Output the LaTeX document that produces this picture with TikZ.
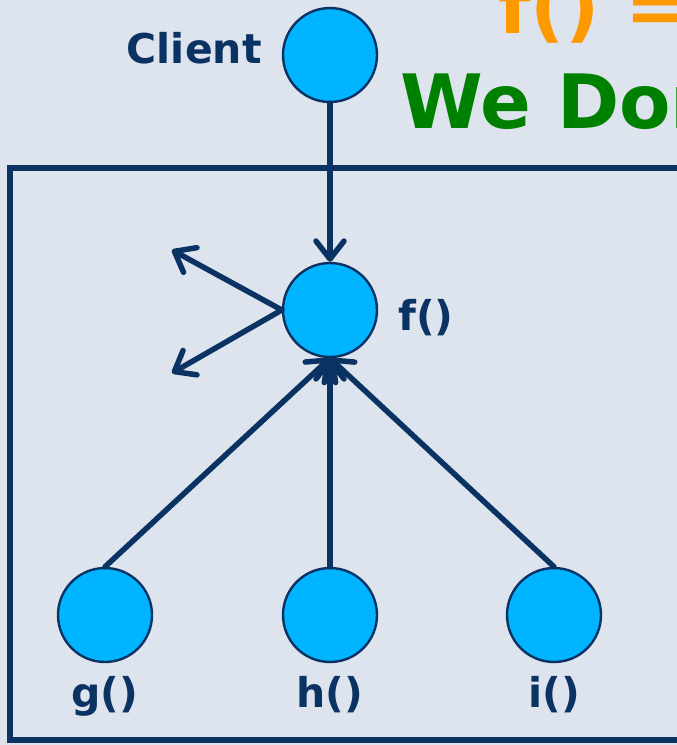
\documentclass[tikz,border=0pt]{standalone}
\usepackage{fontspec}
\setmainfont{DejaVu Sans}
\usetikzlibrary{arrows.meta, positioning}
\definecolor{nvy}{HTML}{0A3263}
\definecolor{cyn}{HTML}{00B4FF}
\definecolor{org}{HTML}{FF9900}
\definecolor{grn}{HTML}{008000}
\definecolor{bgc}{HTML}{DDE4ED}
\tikzset{
  fun/.style   = {circle, draw=nvy, fill=cyn, line width=2.4pt,
                  minimum size=94pt, inner sep=0pt},
  lbl/.style   = {font=\fontsize{41}{44}\selectfont\bfseries, text=nvy,
                  inner sep=0pt},
  hdr/.style   = {font=\fontsize{75}{90}\selectfont\bfseries, inner sep=0pt,
                  anchor=base west},
  arr/.style   = {-{Straight Barb[length=18pt,width=28pt,round]},
                  line width=5.5pt, draw=nvy, line cap=round},
  frame/.style = {draw=nvy, line width=6pt},
}

\begin{document}
\begin{tikzpicture}[x=1pt, y=-1pt, node distance=20pt]

  \useasboundingbox (0,0) rectangle (677,745);
  \clip (0,0) rectangle (677,745);
  \fill[bgc] (0,0) rectangle (677,745);

  \node[hdr, text=org] (eq)   at (498,33)  {f() =};
  \node[hdr, text=grn] (dont) at (400,128) {We Don};

  \draw[frame] (10,168) rectangle (700,740);

  \node[fun]                             (client) at (330,55)  {};
  \node[lbl, left=of client, yshift=7pt] (clientlbl) {Client};
  \node[fun]                             (f)      at (330,310) {};
  \node[lbl, right=of f, yshift=-8pt]    (flbl)   {f()};
  \node[fun]                             (g)      at (105,615) {};
  \node[fun]                             (h)      at (330,615) {};
  \node[fun]                             (i)      at (554,615) {};
  \node[lbl, below=13pt of g]            (glbl)   {g()};
  \node[lbl, below=13pt of h]            (hlbl)   {h()};
  \node[lbl, below=13pt of i]            (ilbl)   {i()};

  % loose ends on the left of f()
  \coordinate (up) at (172,250);
  \coordinate (dn) at (172,373);

  \draw[arr] (client) -- (f);
  \draw[arr] (f.west) -- (up);
  \draw[arr] (f.west) -- (dn);
  \draw[arr] (g.north) -- (f.south);
  \draw[arr] (h.north) -- (f.south);
  \draw[arr] (i.north) -- (f.south);

\end{tikzpicture}
\end{document}
